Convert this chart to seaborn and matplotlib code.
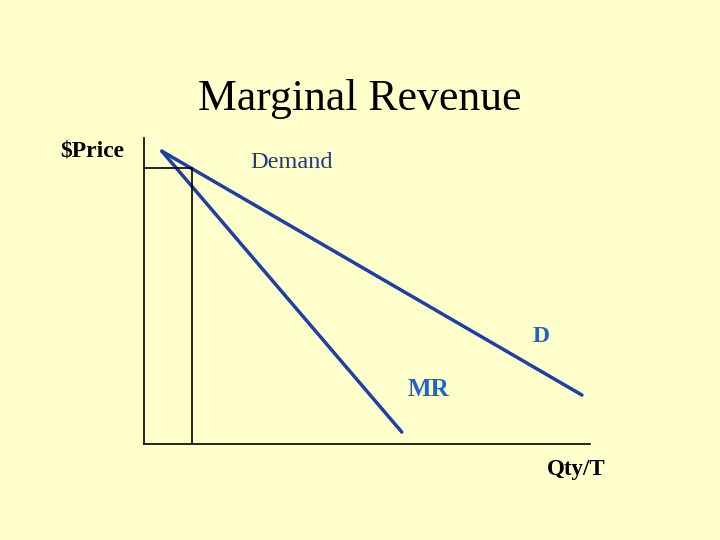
"""Marginal revenue vs demand sketch, redrawn with seaborn."""
import matplotlib
matplotlib.use("Agg")
import matplotlib.pyplot as plt
import seaborn as sns
import pandas as pd

BG = "#FFFFCC"
LINE_BLUE = "#1F3FA8"
LABEL_BLUE = "#1F62D0"
DARK_BLUE = "#1A3A8C"

# data in chart units (quantity 0-10, price 0-10)
demand_qty = [0.40, 9.82]
demand_price = [9.57, 1.60]
mr_qty = [0.40, 5.78]
mr_price = [9.57, 0.39]
ref_qty = 1.08
ref_price = 9.02

sns.set_theme(style="white")
plt.rcParams["font.family"] = ["Liberation Serif", "DejaVu Serif"]

fig = plt.figure(figsize=(7.2, 5.4), dpi=100, facecolor=BG)
ax = fig.add_axes([144 / 720, 96 / 540, 446 / 720, 306 / 540])
ax.set_facecolor(BG)

demand = pd.DataFrame({"qty": demand_qty, "price": demand_price})
mr = pd.DataFrame({"qty": mr_qty, "price": mr_price})
sns.lineplot(data=demand, x="qty", y="price", ax=ax, color=LINE_BLUE, linewidth=2.5)
sns.lineplot(data=mr, x="qty", y="price", ax=ax, color=LINE_BLUE, linewidth=2.5)

# thin reference lines at the first unit
ax.plot([ref_qty, ref_qty], [0, ref_price], color="black", linewidth=1.2)
ax.plot([0, ref_qty], [ref_price, ref_price], color="black", linewidth=1.2)

ax.set_xlim(0, 10)
ax.set_ylim(0, 10)
ax.set_xticks([])
ax.set_yticks([])
ax.set_xlabel("")
ax.set_ylabel("")
for side in ["top", "right"]:
    ax.spines[side].set_visible(False)
for side in ["left", "bottom"]:
    ax.spines[side].set_color("black")
    ax.spines[side].set_linewidth(1.2)

fig.text(360 / 720, 1 - 99 / 540, "Marginal Revenue", ha="center", va="center",
         fontsize=31.5, color="black")
fig.text(92 / 720, 1 - 151 / 540, "$Price", ha="center", va="center",
         fontsize=17, fontweight="bold", color="black")
fig.text(292 / 720, 1 - 162 / 540, "Demand", ha="center", va="center",
         fontsize=17.5, color=DARK_BLUE)
fig.text(541 / 720, 1 - 336 / 540, "D", ha="center", va="center",
         fontsize=17, fontweight="bold", color=LABEL_BLUE)
fig.text(428 / 720, 1 - 390 / 540, "MR", ha="center", va="center",
         fontsize=18, fontweight="bold", color=LABEL_BLUE)
fig.text(576 / 720, 1 - 469 / 540, "Qty/T", ha="center", va="center",
         fontsize=16.5, fontweight="bold", color="black")

fig.savefig("out.png", dpi=100, facecolor=BG)
